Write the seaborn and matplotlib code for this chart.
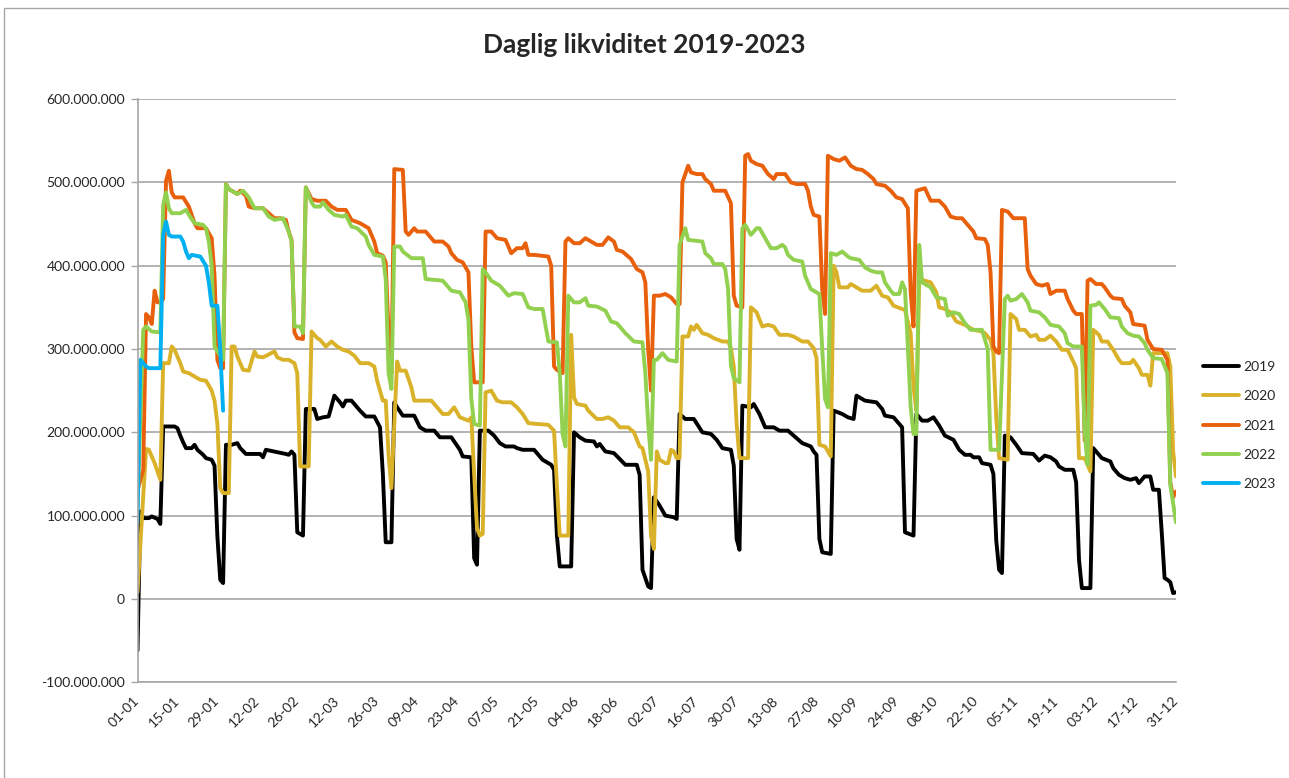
import matplotlib
matplotlib.use("Agg")
import matplotlib.pyplot as plt
import matplotlib.ticker as mticker
from matplotlib.lines import Line2D
from matplotlib.patches import Rectangle
import pandas as pd
import seaborn as sns

# ---------------- DATA (values in millions, day index 0 = 01-01) ----------------
years = ["2019", "2020", "2021", "2022", "2023"]
colors = ["#000000", "#DAB22A", "#E8600C", "#92D050", "#00B0F0"]

days_2019 = [0,1,2,4,5,7,8,9,13,14,15,16,17,19,20,21,23,24,26,27,28,29,30,31,33,35,36,38,43,44,45,52,53,54,55,56,58,59,62,63,65,67,69,71,72,73,75,78,80,83,85,86,87,89,90,91,93,97,99,101,104,106,110,113,114,117,118,119,120,123,125,127,129,132,133,135,139,142,145,146,147,148,152,153,155,157,160,161,162,164,167,171,175,176,177,179,180,181,183,185,188,189,190,192,195,198,201,203,205,208,209,210,211,212,215,216,218,220,223,225,228,230,233,236,237,238,239,240,243,244,247,249,251,252,255,259,261,262,265,268,269,272,273,275,277,279,281,283,286,288,290,292,293,295,296,299,300,301,302,303,304,306,308,310,314,316,318,320,322,323,325,328,329,330,331,334,335,337,338,341,342,344,346,348,350,351,353,355,356,358,359,360,361,362,363,364]
vals_2019 = [-62,105,97,97,99,96,90,207,207,205,196,188,181,181,185,179,173,169,167,160,75,23,19,185,185,187,181,174,174,170,179,174,173,177,173,80,76,228,228,216,218,219,244,236,231,238,238,226,219,219,206,150,68,68,236,230,220,220,206,202,202,194,194,179,171,170,49,41,202,202,196,187,183,183,181,179,179,167,161,155,76,39,39,200,194,190,189,183,186,177,175,161,161,149,35,15,13,122,112,100,98,96,222,216,216,200,198,191,181,179,160,72,59,232,230,234,222,206,206,202,202,196,187,183,177,173,72,56,54,226,222,218,216,244,238,236,228,220,218,206,80,76,222,214,214,218,208,196,191,179,173,173,170,170,163,161,150,70,35,31,196,194,185,175,174,166,172,170,165,159,155,155,140,47,13,13,181,173,169,165,157,149,145,143,145,139,147,147,131,131,80,25,23,20,7,8]

days_2020 = [0,3,4,6,8,9,11,12,13,15,16,18,20,22,24,26,27,28,29,30,32,33,34,35,37,39,41,42,44,48,49,51,53,55,56,57,60,61,63,64,66,68,70,72,74,76,78,81,83,84,86,87,88,89,91,92,94,96,97,103,105,107,109,111,113,116,117,118,119,120,121,122,124,126,128,131,133,135,137,140,144,146,147,148,151,152,153,154,157,158,161,163,165,167,169,172,174,176,177,179,180,181,182,183,185,186,187,188,189,190,191,193,194,195,196,198,200,202,205,207,208,209,210,211,214,215,217,219,221,223,225,228,230,233,235,237,238,239,241,243,244,245,246,249,250,252,254,257,259,261,263,265,268,269,271,272,273,274,276,278,280,281,283,285,287,290,291,293,296,297,299,300,301,302,305,306,308,309,311,313,315,316,318,320,322,324,326,328,329,330,332,334,335,337,338,340,342,344,345,348,349,351,352,354,355,356,359,361,362,363,364]
vals_2020 = [8,180,179,163,143,283,283,303,299,283,273,271,267,263,262,250,238,210,133,127,127,303,303,291,275,274,297,291,290,297,290,287,287,283,271,159,159,321,313,311,303,309,303,299,297,292,283,283,279,262,238,238,173,133,285,274,274,254,238,238,230,222,222,230,218,214,218,150,85,76,78,248,250,238,236,236,230,222,211,210,209,202,137,76,76,317,242,234,232,226,216,216,218,214,206,206,200,183,181,153,76,60,177,167,163,163,179,177,169,169,315,315,327,323,329,319,317,313,309,309,301,279,210,169,169,350,344,327,329,327,317,317,315,309,309,301,289,185,183,171,400,392,374,374,378,374,370,370,376,364,362,352,348,347,319,254,226,384,382,380,368,350,348,344,333,329,327,323,321,319,311,295,218,169,167,342,336,323,323,315,317,311,311,316,309,299,299,285,277,169,169,153,323,317,309,309,299,287,283,283,287,277,269,269,256,295,295,295,279,177,147]

days_2021 = [0,2,3,4,5,6,7,8,9,10,11,12,13,16,18,20,21,24,26,27,28,29,30,31,32,35,36,38,39,41,44,46,48,50,52,53,54,55,56,58,59,61,63,66,68,70,73,75,78,81,83,84,86,87,88,89,90,93,94,95,97,98,101,103,104,107,109,110,112,114,116,117,118,121,122,124,126,129,131,133,135,136,137,139,144,145,146,147,149,150,151,153,155,157,158,161,163,165,167,168,170,173,175,177,178,179,180,181,183,185,187,189,190,191,193,194,196,198,199,201,202,206,208,209,210,212,213,214,215,217,219,221,223,224,227,229,231,234,235,236,237,239,240,241,242,244,246,248,250,252,254,256,258,259,262,264,266,268,270,271,272,273,276,278,281,283,285,287,289,291,293,294,297,298,299,300,301,302,303,305,307,311,312,313,315,317,319,320,322,325,326,328,329,331,332,333,334,336,338,339,341,342,345,346,348,349,353,354,356,359,361,362,363,364]
vals_2021 = [130,155,342,338,330,370,356,356,360,502,514,488,482,482,471,451,445,445,433,388,287,277,277,498,492,486,490,484,471,469,469,463,457,457,455,441,431,320,313,312,494,480,478,478,471,467,467,455,451,445,429,415,412,404,319,271,516,515,441,437,445,441,441,433,429,429,423,415,407,404,392,303,260,260,441,441,433,431,415,421,421,427,413,413,411,400,279,275,271,429,433,427,427,433,431,425,425,434,429,419,417,408,396,392,380,300,250,364,364,366,362,354,354,500,520,512,510,510,504,498,490,490,475,364,352,350,532,534,526,522,520,510,504,510,510,500,498,498,490,471,461,459,372,342,532,528,526,530,520,516,515,510,504,498,496,490,482,480,469,368,327,490,493,478,478,471,459,457,457,449,441,433,432,425,392,303,297,295,467,465,457,457,396,388,378,376,378,366,370,370,360,346,342,342,190,382,384,378,378,374,364,361,360,352,344,330,328,311,300,299,287,140,122,129]

days_2022 = [0,2,3,5,8,9,10,11,12,15,17,18,20,23,24,25,26,27,28,30,31,32,33,35,37,39,41,44,46,48,51,53,54,55,57,58,59,61,62,64,65,67,69,72,73,75,77,80,81,83,86,87,88,89,90,92,93,96,100,101,107,109,110,113,115,116,117,118,120,121,122,124,127,128,130,132,135,137,139,142,144,147,148,149,150,151,153,155,157,158,161,164,166,168,171,174,177,178,179,180,181,182,184,186,189,190,192,193,198,199,201,202,205,206,207,208,209,211,212,213,215,217,218,220,222,224,226,227,228,230,233,234,236,239,240,241,242,243,245,247,249,250,253,255,257,259,261,262,264,265,267,268,269,270,271,272,273,274,275,278,280,283,284,286,288,290,292,296,298,299,302,304,305,306,308,310,312,313,316,318,320,323,325,326,328,331,332,333,334,336,337,339,341,344,345,347,349,351,353,354,356,359,361,362,364]
vals_2022 = [110,323,327,321,320,473,488,469,463,463,467,461,451,449,445,429,400,303,297,287,498,492,490,486,490,482,469,469,459,455,457,441,429,327,327,319,494,476,471,471,476,467,461,459,461,447,445,435,425,413,411,384,271,252,423,423,417,409,409,384,382,374,370,368,356,335,240,210,208,396,392,382,376,372,364,367,366,350,348,348,309,308,271,198,183,364,356,356,361,352,351,346,333,331,319,309,308,271,210,167,287,287,295,287,285,425,445,431,429,415,409,402,402,396,372,280,265,260,445,449,437,445,445,433,421,421,425,422,413,407,405,388,372,366,300,240,230,415,413,417,411,409,407,398,394,392,392,380,370,366,366,380,372,303,230,198,198,425,380,374,362,360,340,344,342,331,323,323,300,179,179,360,364,358,360,366,356,346,344,338,329,327,319,307,303,303,200,161,352,353,356,348,338,337,327,319,316,315,307,299,289,288,271,137,92]

days_2023 = [0,1,2,3,4,8,9,10,11,12,15,16,17,18,19,22,24,25,26,28,29,30]
vals_2023 = [92,287,283,279,277,277,437,453,437,435,435,429,417,409,413,411,400,380,352,352,299,226]

tick_days = list(range(0, 365, 14))
tick_labels = ["01-01","15-01","29-01","12-02","26-02","12-03","26-03","09-04","23-04",
               "07-05","21-05","04-06","18-06","02-07","16-07","30-07","13-08","27-08",
               "10-09","24-09","08-10","22-10","05-11","19-11","03-12","17-12","31-12"]
y_ticks = [-100, 0, 100, 200, 300, 400, 500, 600]

title = "Daglig likviditet 2019-2023"

# ---------------- build table ----------------
series = {"2019": (days_2019, vals_2019), "2020": (days_2020, vals_2020),
          "2021": (days_2021, vals_2021), "2022": (days_2022, vals_2022),
          "2023": (days_2023, vals_2023)}
frames = []
for y in years:
    d, v = series[y]
    frames.append(pd.DataFrame({"day": d, "value": [x * 1e6 for x in v], "year": y}))
df = pd.concat(frames, ignore_index=True)

# ---------------- plot ----------------
sns.set_theme(style="white")
plt.rcParams["font.family"] = ["Lato", "DejaVu Sans"]

W, H = 1289, 778
fig = plt.figure(figsize=(W / 100, H / 100), dpi=100)
ax = fig.add_axes([137.5 / W, 1 - 682.2 / H, (1176 - 137.5) / W, (682.2 - 99.1) / H])

sns.lineplot(data=df, x="day", y="value", hue="year", hue_order=years,
             palette=dict(zip(years, colors)), estimator=None, linewidth=2.8,
             ax=ax, legend=False)

ax.set_xlim(0, 364)
ax.set_ylim(-100e6, 600e6)
ax.set_yticks([t * 1e6 for t in y_ticks])
ax.yaxis.set_major_formatter(mticker.FuncFormatter(lambda v, p: f"{int(round(v)):,}".replace(",", ".")))
ax.set_xticks(tick_days)
ax.set_xticklabels(tick_labels, rotation=45, ha="right", va="center", rotation_mode="anchor")
ax.set_xlabel("")
ax.set_ylabel("")
ax.grid(False)
ax.yaxis.grid(True, color="#A6A6A6", linewidth=1.2)
ax.set_axisbelow(True)
for s in ["top", "right"]:
    ax.spines[s].set_visible(False)
for s in ["left", "bottom"]:
    ax.spines[s].set_color("#A6A6A6")
    ax.spines[s].set_linewidth(1.2)
ax.tick_params(axis="y", length=5, width=1.0, color="#A6A6A6", labelsize=10, pad=4, left=True)
ax.tick_params(axis="x", length=0, labelsize=10, pad=12)

fig.text(0.5, 1 - 45 / H, title, ha="center", va="center", fontsize=19, fontweight="bold")

handles = [Line2D([0], [0], color=c, lw=2.8) for c in colors]
ax.legend(handles, years, loc="center left", bbox_to_anchor=(1196 / W, 1 - 425.5 / H),
          bbox_transform=fig.transFigure, frameon=False, fontsize=10,
          handlelength=2.6, handletextpad=0.3, labelspacing=1.25, borderpad=0)

fig.patches.append(Rectangle((3.5 / W, -0.1), 1.2, 1.1 - 8.5 / H, transform=fig.transFigure,
                             fill=False, edgecolor="#A6A6A6", linewidth=1.0))

fig.savefig("out.png", dpi=100)
